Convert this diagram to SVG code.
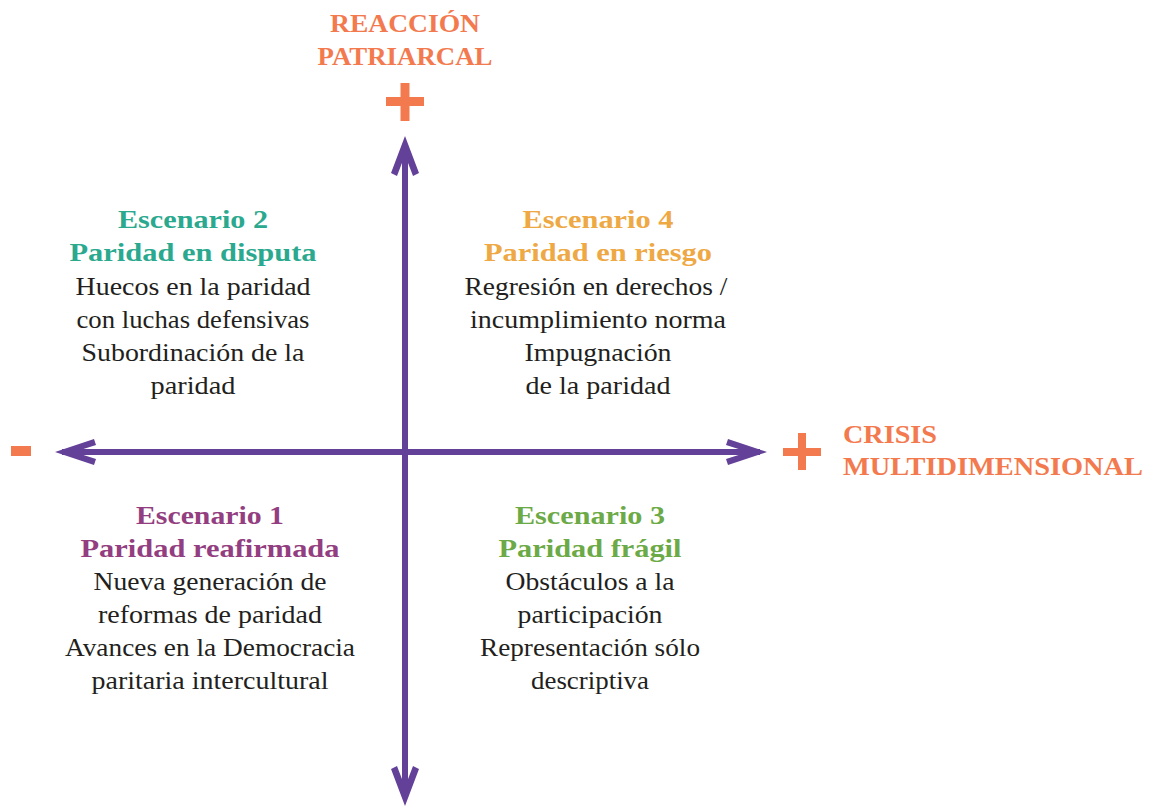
<svg xmlns="http://www.w3.org/2000/svg" width="1156" height="807" viewBox="0 0 1156 807">
<style>
text{font-family:'Liberation Serif','Times New Roman',serif}
.t{font-size:26px;fill:#231f20;text-anchor:middle}
.h{font-size:26px;font-weight:bold;text-anchor:middle}
.ax{font-size:26px;font-weight:bold;fill:#f37a4e}
.sign{fill:#f37a4e}
.axis{stroke:#644199;stroke-width:6;fill:none}
.head{fill:#644199}
</style>
<rect width="1156" height="807" fill="#fff"/>
<g id="connectors">
<line class="axis" x1="405" y1="145" x2="405" y2="798"/>
<line class="axis" x1="62" y1="452" x2="760" y2="452"/>
<polygon class="head" points="405,136 419,173 413,176 405,155 397,176 391,173"/>
<polygon class="head" points="405,806 419,769 413,766 405,787 397,766 391,769"/>
<polygon class="head" points="55,452 94,439 96,445 74,452 96,459 94,465"/>
<polygon class="head" points="767,452 728,439 726,445 748,452 726,459 728,465"/>
</g>
<g id="axis-y-label">
<text class="ax" x="405" y="32" text-anchor="middle" textLength="150" lengthAdjust="spacingAndGlyphs">REACCIÓN</text>
<text class="ax" x="405" y="65" text-anchor="middle" textLength="175" lengthAdjust="spacingAndGlyphs">PATRIARCAL</text>
<rect class="sign" x="386" y="97" width="38" height="9"/>
<rect class="sign" x="400.5" y="83" width="9" height="38"/>
</g>
<g id="axis-x-label">
<rect class="sign" x="783" y="448" width="38" height="8"/>
<rect class="sign" x="798" y="433" width="8" height="37"/>
<text class="ax" x="843" y="443" textLength="94" lengthAdjust="spacingAndGlyphs">CRISIS</text>
<text class="ax" x="843" y="475" textLength="300" lengthAdjust="spacingAndGlyphs">MULTIDIMENSIONAL</text>
</g>
<g id="axis-x-minus">
<rect class="sign" x="11" y="446" width="20" height="10"/>
</g>
<g id="escenario2">
<text class="h" x="193" y="228" fill="#2ba98f" textLength="150" lengthAdjust="spacingAndGlyphs">Escenario 2</text>
<text class="h" x="193" y="261" fill="#2ba98f" textLength="247" lengthAdjust="spacingAndGlyphs">Paridad en disputa</text>
<text class="t" x="193" y="295" textLength="235" lengthAdjust="spacingAndGlyphs">Huecos en la paridad</text>
<text class="t" x="193" y="328" textLength="233" lengthAdjust="spacingAndGlyphs">con luchas defensivas</text>
<text class="t" x="193" y="361" textLength="223" lengthAdjust="spacingAndGlyphs">Subordinación de la</text>
<text class="t" x="193" y="394" textLength="85" lengthAdjust="spacingAndGlyphs">paridad</text>
</g>
<g id="escenario4">
<text class="h" x="598" y="228" fill="#eea844" textLength="151" lengthAdjust="spacingAndGlyphs">Escenario 4</text>
<text class="h" x="598" y="261" fill="#eea844" textLength="228" lengthAdjust="spacingAndGlyphs">Paridad en riesgo</text>
<text class="t" x="596" y="295" textLength="263" lengthAdjust="spacingAndGlyphs">Regresión en derechos /</text>
<text class="t" x="598" y="328" textLength="256" lengthAdjust="spacingAndGlyphs">incumplimiento norma</text>
<text class="t" x="598" y="361" textLength="147" lengthAdjust="spacingAndGlyphs">Impugnación</text>
<text class="t" x="598" y="394" textLength="145" lengthAdjust="spacingAndGlyphs">de la paridad</text>
</g>
<g id="escenario1">
<text class="h" x="210" y="524" fill="#923e80" textLength="148" lengthAdjust="spacingAndGlyphs">Escenario 1</text>
<text class="h" x="210" y="557" fill="#923e80" textLength="259" lengthAdjust="spacingAndGlyphs">Paridad reafirmada</text>
<text class="t" x="210" y="590" textLength="233" lengthAdjust="spacingAndGlyphs">Nueva generación de</text>
<text class="t" x="210" y="623" textLength="224" lengthAdjust="spacingAndGlyphs">reformas de paridad</text>
<text class="t" x="210" y="656" textLength="290" lengthAdjust="spacingAndGlyphs">Avances en la Democracia</text>
<text class="t" x="210" y="689" textLength="237" lengthAdjust="spacingAndGlyphs">paritaria intercultural</text>
</g>
<g id="escenario3">
<text class="h" x="590" y="524" fill="#6caa47" textLength="150" lengthAdjust="spacingAndGlyphs">Escenario 3</text>
<text class="h" x="590" y="557" fill="#6caa47" textLength="183" lengthAdjust="spacingAndGlyphs">Paridad frágil</text>
<text class="t" x="590" y="590" textLength="169" lengthAdjust="spacingAndGlyphs">Obstáculos a la</text>
<text class="t" x="590" y="623" textLength="145" lengthAdjust="spacingAndGlyphs">participación</text>
<text class="t" x="590" y="656" textLength="220" lengthAdjust="spacingAndGlyphs">Representación sólo</text>
<text class="t" x="590" y="689" textLength="118" lengthAdjust="spacingAndGlyphs">descriptiva</text>
</g>
</svg>
